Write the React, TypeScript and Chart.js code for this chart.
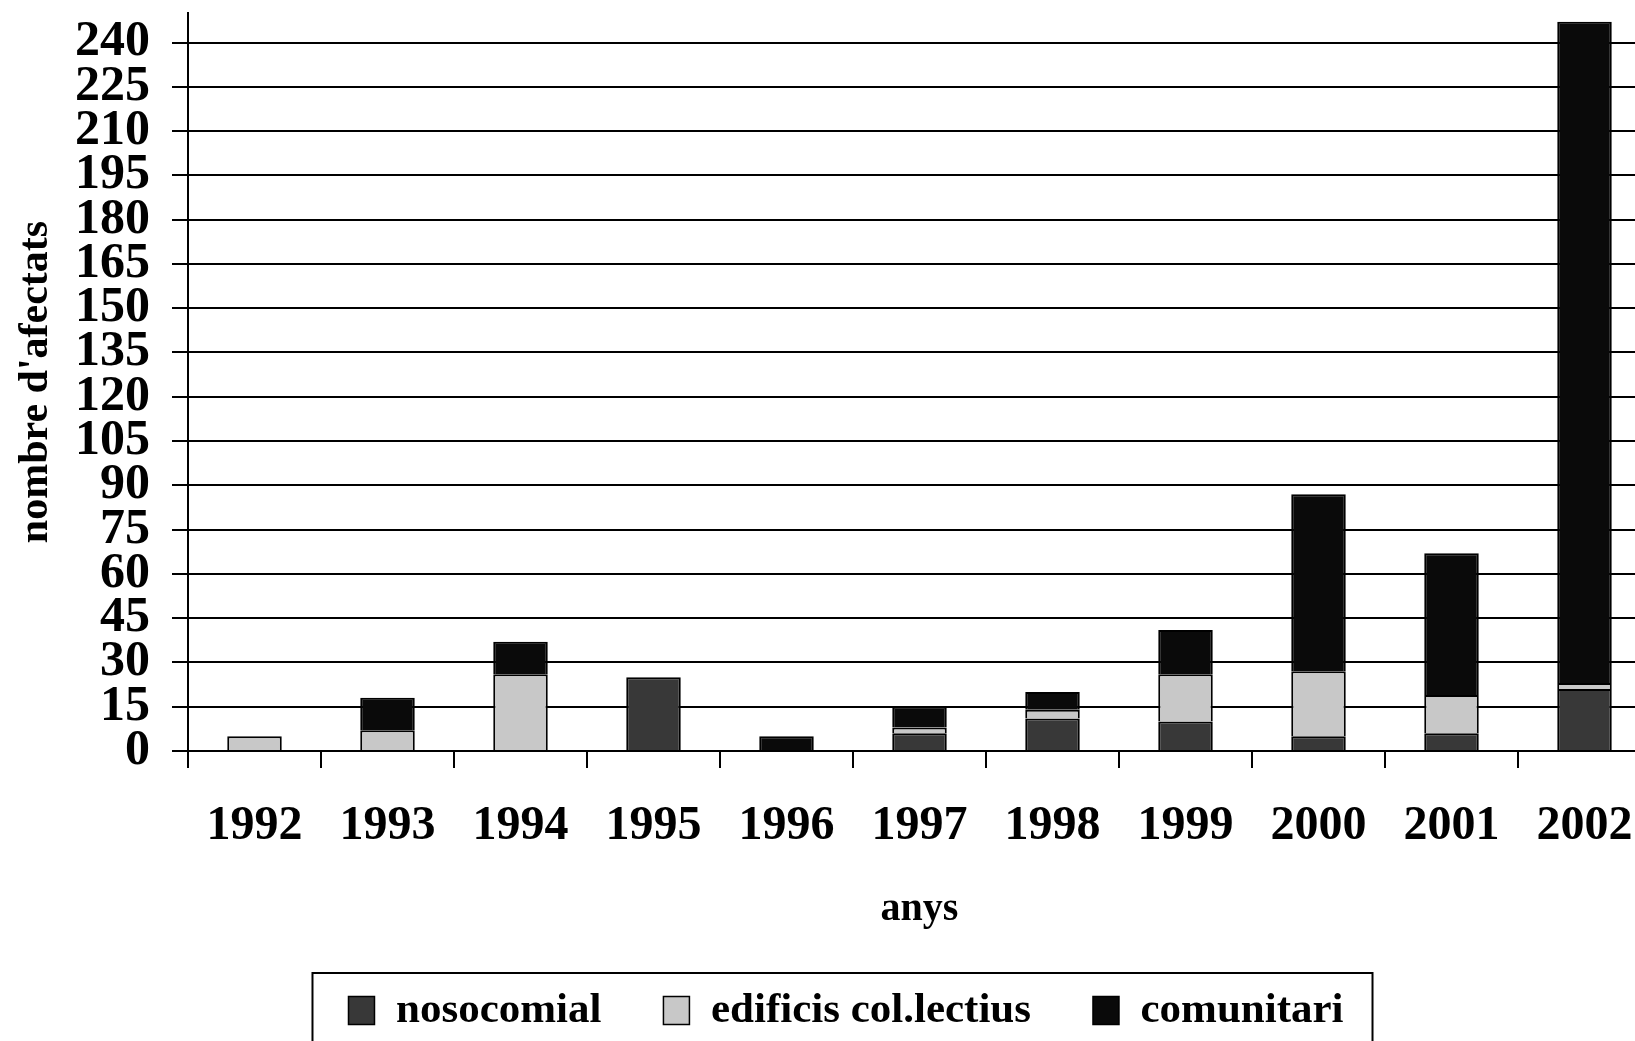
import React, { useEffect, useRef } from "react";
import { Chart, registerables } from "chart.js";

Chart.register(...registerables);

const years = ["1992", "1993", "1994", "1995", "1996", "1997", "1998", "1999", "2000", "2001", "2002"];
const nosocomial = [0, 0, 0, 25, 0, 6, 11, 10, 5, 6, 21];
const edificis = [5, 7, 26, 0, 0, 2, 3, 16, 22, 13, 2];
const comunitari = [0, 11, 11, 0, 5, 7, 6, 15, 60, 48, 224];
const seriesNames = ["nosocomial", "edificis col.lectius", "comunitari"];
const seriesColors = ["#383838", "#c8c8c8", "#0a0a0a"];
const yMin = 0;
const yMax = 250;
const yStep = 15;
const xTitle = "anys";
const yTitle = "nombre d'afectats";

const FONT = "'Liberation Serif', 'Times New Roman', serif";

const legendFrame = {
  id: "legendFrame",
  afterDraw(chart: any) {
    const hb = chart.legend && chart.legend.legendHitBoxes;
    if (!hb || !hb.length) return;
    const first = hb[0];
    const last = hb[hb.length - 1];
    const ctx = chart.ctx;
    const left = first.left - 36;
    const right = last.left + last.width + 29;
    ctx.save();
    ctx.strokeStyle = "#000";
    ctx.lineWidth = 2;
    ctx.strokeRect(left, first.top - 16, right - left, chart.height);
    ctx.restore();
  },
};

export default function App() {
  const ref = useRef<HTMLCanvasElement>(null);

  useEffect(() => {
    if (!ref.current) return;
    const data = [nosocomial, edificis, comunitari];
    const chart = new Chart(ref.current, {
      type: "bar",
      data: {
        labels: years,
        datasets: data.map((d, i) => ({
          label: seriesNames[i],
          data: d,
          backgroundColor: seriesColors[i],
          borderColor: "#000",
          borderWidth: { top: 2, left: 2, right: 2, bottom: 0 },
          borderSkipped: false,
          categoryPercentage: 1,
          barPercentage: 0.41,
        })),
      },
      options: {
        responsive: false,
        animation: false,
        layout: { padding: { top: 13, left: 0, right: 0, bottom: 0 } },
        plugins: {
          tooltip: { enabled: false },
          legend: {
            position: "bottom",
            labels: {
              color: "#000",
              font: { family: FONT, size: 43, weight: "bold" },
              boxWidth: 26,
              boxHeight: 28,
              padding: 62,
            },
          },
        },
        scales: {
          x: {
            stacked: true,
            offset: true,
            grid: {
              offset: true,
              drawOnChartArea: false,
              drawTicks: true,
              tickLength: 17,
              color: "#000",
              lineWidth: 2,
            },
            border: { display: true, color: "#000", width: 2 },
            ticks: {
              color: "#000",
              padding: 30,
              maxRotation: 0,
              autoSkip: false,
              font: { family: FONT, size: 48, weight: "bold" },
            },
            title: {
              display: true,
              text: xTitle,
              color: "#000",
              font: { family: FONT, size: 40, weight: "bold", lineHeight: 1 },
              padding: { top: 0, bottom: -2.5 },
            },
            afterFit: (s: any) => {
              s.height = 176;
              s.paddingLeft = 0;
              s.paddingRight = 0;
            },
          },
          y: {
            stacked: true,
            min: yMin,
            max: yMax,
            grid: {
              color: "#000",
              lineWidth: 2,
              tickLength: 16,
              drawTicks: true,
            },
            border: { display: true, color: "#000", width: 2 },
            ticks: {
              stepSize: yStep,
              includeBounds: false,
              autoSkip: false,
              color: "#000",
              padding: 22,
              font: { family: FONT, size: 50, weight: "bold" },
            },
            title: {
              display: true,
              text: yTitle,
              color: "#000",
              font: { family: FONT, size: 42, weight: "bold" },
              padding: { top: 10.6, bottom: 0 },
            },
            afterFit: (s: any) => {
              s.width = 188;
              s.paddingTop = 0;
              s.paddingBottom = 0;
            },
          },
          yRight: {
            type: "linear",
            position: "right",
            display: true,
            grid: { display: false },
            border: { display: false },
            ticks: { display: false },
            afterFit: (s: any) => {
              s.width = 41;
            },
          },
        },
      } as any,
      plugins: [legendFrame],
    });
    return () => chart.destroy();
  }, []);

  return (
    <div
      style={{
        position: "fixed",
        left: 0,
        top: 0,
        width: 1635,
        height: 1041,
        overflow: "hidden",
        background: "#fff",
      }}
    >
      <canvas ref={ref} width={1692} height={1042} style={{ display: "block" }} />
    </div>
  );
}
